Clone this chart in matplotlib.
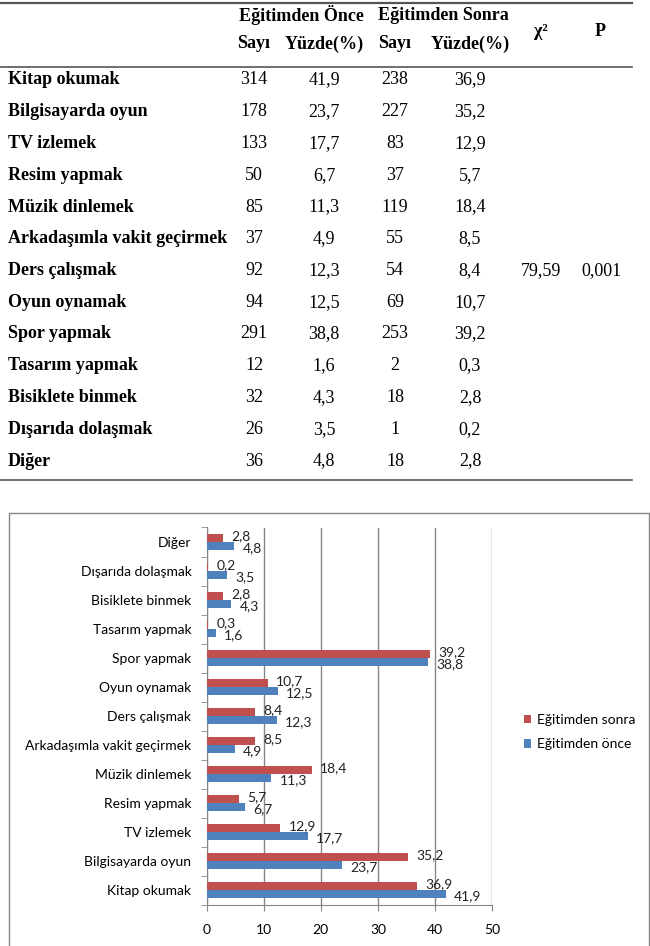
import matplotlib
matplotlib.use("Agg")
import matplotlib.pyplot as plt
from matplotlib.patches import Rectangle
from matplotlib.lines import Line2D
import numpy as np

# data
categories = ['Kitap okumak', 'Bilgisayarda oyun', 'TV izlemek', 'Resim yapmak',
              'Müzik dinlemek', 'Arkadaşımla vakit geçirmek', 'Ders çalışmak',
              'Oyun oynamak', 'Spor yapmak', 'Tasarım yapmak', 'Bisiklete binmek',
              'Dışarıda dolaşmak', 'Diğer']
once_sayi = [314, 178, 133, 50, 85, 37, 92, 94, 291, 12, 32, 26, 36]
once_yuzde = [41.9, 23.7, 17.7, 6.7, 11.3, 4.9, 12.3, 12.5, 38.8, 1.6, 4.3, 3.5, 4.8]
sonra_sayi = [238, 227, 83, 37, 119, 55, 54, 69, 253, 2, 18, 1, 18]
sonra_yuzde = [36.9, 35.2, 12.9, 5.7, 18.4, 8.5, 8.4, 10.7, 39.2, 0.3, 2.8, 0.2, 2.8]
chi2_value = '79,59'
p_value = '0,001'
x_ticks = [0, 10, 20, 30, 40, 50]

W, H = 650, 946
fig = plt.figure(figsize=(W / 100, H / 100), dpi=100)

def fx(x):
    return x / W

def fy(y):
    return 1 - y / H

def tr(v):
    return f"{v:.1f}".replace('.', ',')

# ---------------- table ----------------
serif = 'Liberation Serif'
tsize = 13
line_col = '#555555'
for y, lw in [(3, 1.6), (67, 1.2), (480, 1.2)]:
    fig.add_artist(Line2D([0, fx(632)], [fy(y), fy(y)], color=line_col, lw=lw,
                          transform=fig.transFigure))

fig.text(fx(301), fy(15), 'Eğitimden Önce', ha='center', va='center',
         family=serif, weight='bold', fontsize=tsize)
fig.text(fx(443), fy(15), 'Eğitimden Sonra', ha='center', va='center',
         family=serif, weight='bold', fontsize=tsize)
col_x = [254, 324, 395, 470]
for x, t in zip(col_x, ['Sayı', 'Yüzde(%)', 'Sayı', 'Yüzde(%)']):
    fig.text(fx(x), fy(44), t, ha='center', va='center', family=serif,
             weight='bold', fontsize=tsize)
fig.text(fx(541), fy(31), 'χ²', ha='center', va='center', family=serif,
         weight='bold', fontsize=tsize)
fig.text(fx(600), fy(31), 'P', ha='center', va='center', family=serif,
         weight='bold', fontsize=tsize)

row_h = 31.75
for i, cat in enumerate(categories):
    y = 80 + i * row_h
    fig.text(fx(8), fy(y), cat, ha='left', va='center', family=serif,
             weight='bold', fontsize=tsize)
    vals = [str(once_sayi[i]), tr(once_yuzde[i]), str(sonra_sayi[i]), tr(sonra_yuzde[i])]
    for x, v in zip(col_x, vals):
        fig.text(fx(x), fy(y), v, ha='center', va='center', family=serif, fontsize=tsize)
    if cat == 'Ders çalışmak':
        fig.text(fx(541), fy(y), chi2_value, ha='center', va='center', family=serif, fontsize=tsize)
        fig.text(fx(601), fy(y), p_value, ha='center', va='center', family=serif, fontsize=tsize)

# ---------------- chart ----------------
sans = 'Lato'
csize = 10
red = '#C0504D'
blue = '#4F81BD'
grid_col = '#868686'

fig.add_artist(Rectangle((fx(9), -0.01), fx(649) - fx(9), fy(513) + 0.01,
                         transform=fig.transFigure, fill=False, ec=grid_col, lw=1))

ax = fig.add_axes([fx(206.7), fy(904.5), fx(492) - fx(206.7), (904.5 - 527.5) / H])
y = np.arange(len(categories))
h = 0.276
ax.barh(y + h / 2, sonra_yuzde, h, color=red, label='Eğitimden sonra', zorder=3)
ax.barh(y - h / 2, once_yuzde, h, color=blue, label='Eğitimden önce', zorder=3)

for yi, v in zip(y, sonra_yuzde):
    ax.annotate(tr(v), (v, yi + h / 2), xytext=(6, 1), textcoords='offset points',
                ha='left', va='center', family=sans, fontsize=csize, color='#222222')
for yi, v in zip(y, once_yuzde):
    ax.annotate(tr(v), (v, yi - h / 2), xytext=(6, -1.5), textcoords='offset points',
                ha='left', va='center', family=sans, fontsize=csize, color='#222222')

ax.set_xlim(0, 50)
ax.set_ylim(-0.5, len(categories) - 0.5)
ax.set_xticks(x_ticks)
ax.set_xticklabels([str(t) for t in x_ticks], family=sans, fontsize=csize)
ax.set_yticks(y)
ax.set_yticklabels(categories, family=sans, fontsize=csize)
ax.set_yticks(np.arange(-0.5, len(categories)), minor=True)
ax.tick_params(axis='y', which='major', length=0, pad=11)
ax.tick_params(axis='y', which='minor', length=4, color=grid_col, direction='out')
ax.tick_params(axis='x', length=4, color=grid_col, direction='out', pad=10)
ax.xaxis.grid(True, color=grid_col, lw=1, zorder=0)
for s in ['top', 'right']:
    ax.spines[s].set_visible(False)
for s in ['left', 'bottom']:
    ax.spines[s].set_color(grid_col)

handles, labels = ax.get_legend_handles_labels()
leg = ax.legend(handles, labels, loc='center left', bbox_to_anchor=(fx(511), fy(732)),
                bbox_transform=fig.transFigure, frameon=False, handlelength=0.55,
                handleheight=0.55, handletextpad=0.4, labelspacing=0.9,
                prop={'family': sans, 'size': csize})

fig.savefig('out.png', dpi=100)
